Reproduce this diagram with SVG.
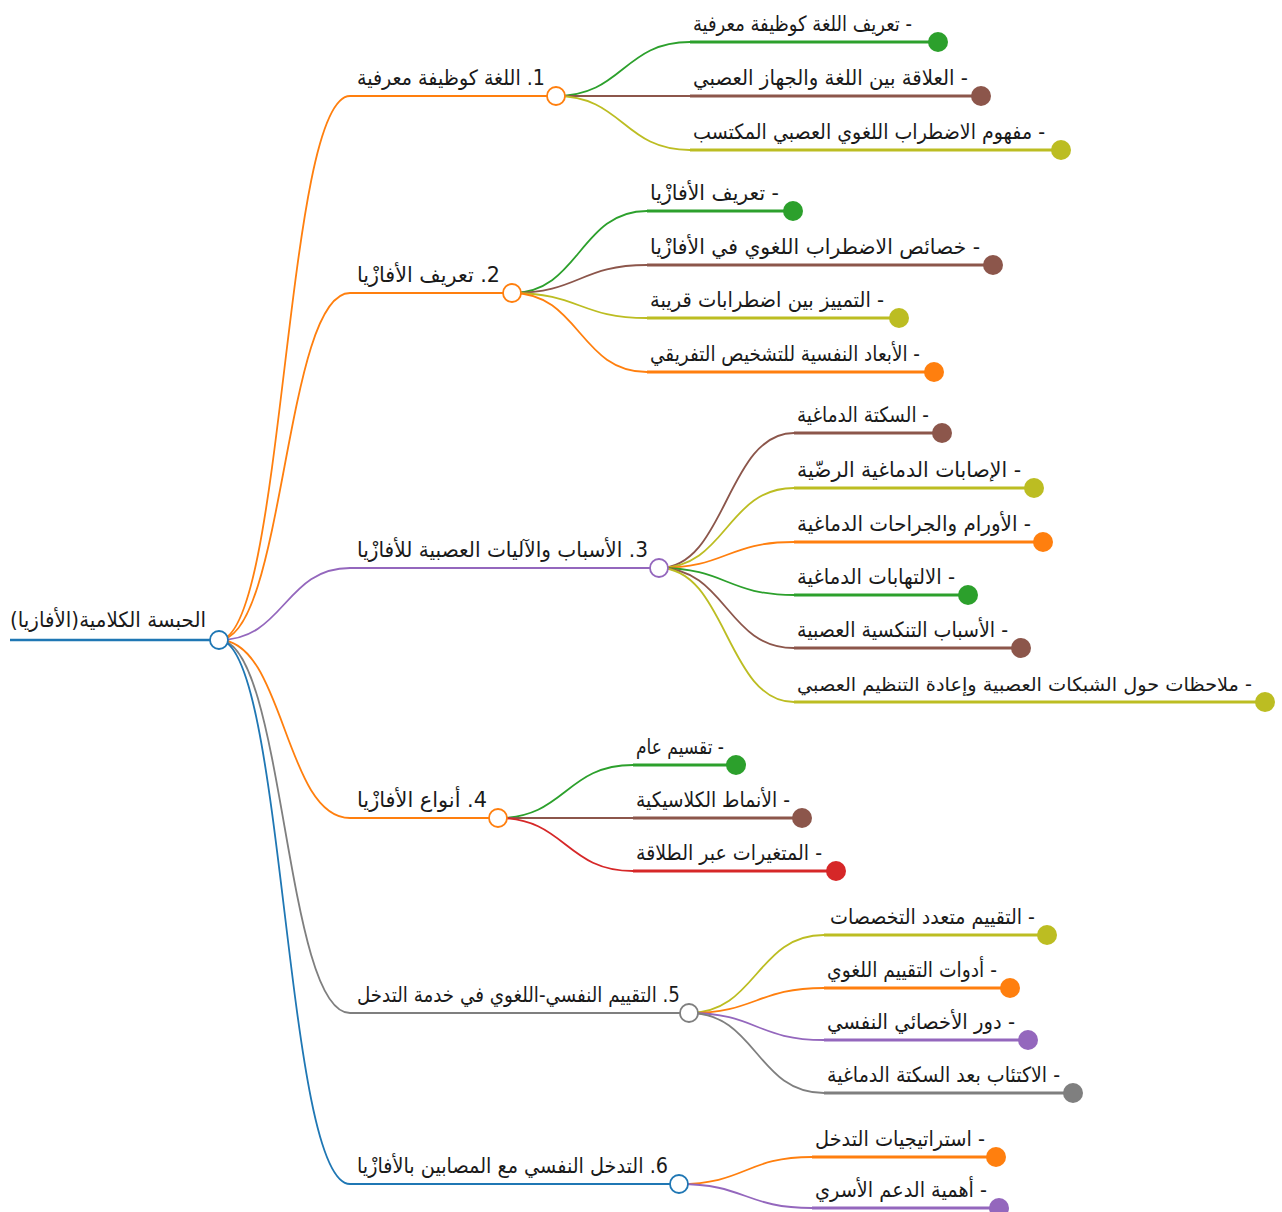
<svg xmlns="http://www.w3.org/2000/svg" width="1282" height="1212" viewBox="0 0 1282 1212">
<style>
.t{font-family:"DejaVu Sans",sans-serif;font-size:21px;fill:#1a1a1a;direction:rtl;unicode-bidi:embed;}
.c{fill:none;stroke-width:1.8;}
.u{fill:none;stroke-width:2;}
.l{fill:none;stroke-width:3;}
.o{stroke:#ff7f0e;} .g{stroke:#2ca02c;} .b{stroke:#8c564b;} .y{stroke:#bcbd22;} .p{stroke:#9467bd;} .k{stroke:#7f7f7f;} .bl{stroke:#1f77b4;} .r{stroke:#d62728;}
.fo{fill:#ff7f0e;} .fg{fill:#2ca02c;} .fb{fill:#8c564b;} .fy{fill:#bcbd22;} .fp{fill:#9467bd;} .fk{fill:#7f7f7f;} .fr{fill:#d62728;}
.hc{fill:#fff;stroke-width:1.8;}
</style>
<rect width="1282" height="1212" fill="#fff"/>
<g id="connectors">
  <path class="c o" d="M219,640 C284.5,640 284.5,96 350,96"/>
  <path class="c o" d="M219,640 C284.5,640 284.5,293 350,293"/>
  <path class="c p" d="M219,640 C284.5,640 284.5,568 350,568"/>
  <path class="c o" d="M219,640 C284.5,640 284.5,818 350,818"/>
  <path class="c k" d="M219,640 C284.5,640 284.5,1013 350,1013"/>
  <path class="c bl" d="M219,640 C284.5,640 284.5,1184 350,1184"/>
  <path class="c g" d="M556,96 C623,96 623,42 690,42"/>
  <path class="c b" d="M556,96 C623,96 623,96 690,96"/>
  <path class="c y" d="M556,96 C623,96 623,150 690,150"/>
  <path class="c g" d="M512,293 C579.5,293 579.5,211 647,211"/>
  <path class="c b" d="M512,293 C579.5,293 579.5,265 647,265"/>
  <path class="c y" d="M512,293 C579.5,293 579.5,318 647,318"/>
  <path class="c o" d="M512,293 C579.5,293 579.5,372 647,372"/>
  <path class="c b" d="M659,568 C726.5,568 726.5,433 794,433"/>
  <path class="c y" d="M659,568 C726.5,568 726.5,488 794,488"/>
  <path class="c o" d="M659,568 C726.5,568 726.5,542 794,542"/>
  <path class="c g" d="M659,568 C726.5,568 726.5,595 794,595"/>
  <path class="c b" d="M659,568 C726.5,568 726.5,648 794,648"/>
  <path class="c y" d="M659,568 C726.5,568 726.5,702 794,702"/>
  <path class="c g" d="M498,818 C565.5,818 565.5,765 633,765"/>
  <path class="c b" d="M498,818 C565.5,818 565.5,818 633,818"/>
  <path class="c r" d="M498,818 C565.5,818 565.5,871 633,871"/>
  <path class="c y" d="M689,1013 C756.5,1013 756.5,935 824,935"/>
  <path class="c o" d="M689,1013 C756.5,1013 756.5,988 824,988"/>
  <path class="c p" d="M689,1013 C756.5,1013 756.5,1040 824,1040"/>
  <path class="c k" d="M689,1013 C756.5,1013 756.5,1093 824,1093"/>
  <path class="c o" d="M679,1184 C745.5,1184 745.5,1157 812,1157"/>
  <path class="c p" d="M679,1184 C745.5,1184 745.5,1208 812,1208"/>
</g>

<g id="root">
  <path class="u bl" d="M10,640 H219" style="stroke-width:2.5"/>
  <text class="t" x="10" y="627" text-anchor="end" textLength="196" lengthAdjust="spacingAndGlyphs">الحبسة الكلامية(الأفازيا)</text>
  <circle class="hc bl" cx="219" cy="640" r="9"/>
</g>

<g id="b1">
  <path class="u o" d="M350,96 H556"/>
  <text class="t" x="357" y="85" text-anchor="end" textLength="188" lengthAdjust="spacingAndGlyphs">1. اللغة كوظيفة معرفية</text>
  <circle class="hc o" cx="556" cy="96" r="9"/>
</g>
<g id="b1-1"><path class="l g" d="M690,42 H938"/><text class="t" x="693" y="31" text-anchor="end" textLength="219" lengthAdjust="spacingAndGlyphs">- تعريف اللغة كوظيفة معرفية</text><circle class="fg" cx="938" cy="42" r="10"/></g>
<g id="b1-2"><path class="l b" d="M690,96 H981"/><text class="t" x="693" y="85" text-anchor="end" textLength="275" lengthAdjust="spacingAndGlyphs">- العلاقة بين اللغة والجهاز العصبي</text><circle class="fb" cx="981" cy="96" r="10"/></g>
<g id="b1-3"><path class="l y" d="M690,150 H1061"/><text class="t" x="693" y="139" text-anchor="end" textLength="352" lengthAdjust="spacingAndGlyphs">- مفهوم الاضطراب اللغوي العصبي المكتسب</text><circle class="fy" cx="1061" cy="150" r="10"/></g>

<g id="b2">
  <path class="u o" d="M350,293 H512"/>
  <text class="t" x="357" y="282" text-anchor="end" textLength="143" lengthAdjust="spacingAndGlyphs">2. تعريف الأفازْيا</text>
  <circle class="hc o" cx="512" cy="293" r="9"/>
</g>
<g id="b2-1"><path class="l g" d="M647,211 H793"/><text class="t" x="650" y="200" text-anchor="end" textLength="129" lengthAdjust="spacingAndGlyphs">- تعريف الأفازْيا</text><circle class="fg" cx="793" cy="211" r="10"/></g>
<g id="b2-2"><path class="l b" d="M647,265 H993"/><text class="t" x="650" y="254" text-anchor="end" textLength="330" lengthAdjust="spacingAndGlyphs">- خصائص الاضطراب اللغوي في الأفازْيا</text><circle class="fb" cx="993" cy="265" r="10"/></g>
<g id="b2-3"><path class="l y" d="M647,318 H899"/><text class="t" x="650" y="307" text-anchor="end" textLength="234" lengthAdjust="spacingAndGlyphs">- التمييز بين اضطرابات قريبة</text><circle class="fy" cx="899" cy="318" r="10"/></g>
<g id="b2-4"><path class="l o" d="M647,372 H934"/><text class="t" x="650" y="361" text-anchor="end" textLength="270" lengthAdjust="spacingAndGlyphs">- الأبعاد النفسية للتشخيص التفريقي</text><circle class="fo" cx="934" cy="372" r="10"/></g>

<g id="b3">
  <path class="u p" d="M350,568 H659"/>
  <text class="t" x="357" y="557" text-anchor="end" textLength="291" lengthAdjust="spacingAndGlyphs">3. الأسباب والآليات العصبية للأفازْيا</text>
  <circle class="hc p" cx="659" cy="568" r="9"/>
</g>
<g id="b3-1"><path class="l b" d="M794,433 H942"/><text class="t" x="797" y="422" text-anchor="end" textLength="132" lengthAdjust="spacingAndGlyphs">- السكتة الدماغية</text><circle class="fb" cx="942" cy="433" r="10"/></g>
<g id="b3-2"><path class="l y" d="M794,488 H1034"/><text class="t" x="797" y="477" text-anchor="end" textLength="224" lengthAdjust="spacingAndGlyphs">- الإصابات الدماغية الرضّية</text><circle class="fy" cx="1034" cy="488" r="10"/></g>
<g id="b3-3"><path class="l o" d="M794,542 H1043"/><text class="t" x="797" y="531" text-anchor="end" textLength="234" lengthAdjust="spacingAndGlyphs">- الأورام والجراحات الدماغية</text><circle class="fo" cx="1043" cy="542" r="10"/></g>
<g id="b3-4"><path class="l g" d="M794,595 H968"/><text class="t" x="797" y="584" text-anchor="end" textLength="158" lengthAdjust="spacingAndGlyphs">- الالتهابات الدماغية</text><circle class="fg" cx="968" cy="595" r="10"/></g>
<g id="b3-5"><path class="l b" d="M794,648 H1021"/><text class="t" x="797" y="637" text-anchor="end" textLength="211" lengthAdjust="spacingAndGlyphs">- الأسباب التنكسية العصبية</text><circle class="fb" cx="1021" cy="648" r="10"/></g>
<g id="b3-6"><path class="l y" d="M794,702 H1265"/><text class="t" x="797" y="691" text-anchor="end" textLength="455" lengthAdjust="spacingAndGlyphs" style="font-size:19px">- ملاحظات حول الشبكات العصبية وإعادة التنظيم العصبي</text><circle class="fy" cx="1265" cy="702" r="10"/></g>

<g id="b4">
  <path class="u o" d="M350,818 H498"/>
  <text class="t" x="357" y="807" text-anchor="end" textLength="130" lengthAdjust="spacingAndGlyphs">4. أنواع الأفازْيا</text>
  <circle class="hc o" cx="498" cy="818" r="9"/>
</g>
<g id="b4-1"><path class="l g" d="M633,765 H736"/><text class="t" x="636" y="754" text-anchor="end" textLength="88" lengthAdjust="spacingAndGlyphs">- تقسيم عام</text><circle class="fg" cx="736" cy="765" r="10"/></g>
<g id="b4-2"><path class="l b" d="M633,818 H802"/><text class="t" x="636" y="807" text-anchor="end" textLength="154" lengthAdjust="spacingAndGlyphs">- الأنماط الكلاسيكية</text><circle class="fb" cx="802" cy="818" r="10"/></g>
<g id="b4-3"><path class="l r" d="M633,871 H836"/><text class="t" x="636" y="860" text-anchor="end" textLength="186" lengthAdjust="spacingAndGlyphs">- المتغيرات عبر الطلاقة</text><circle class="fr" cx="836" cy="871" r="10"/></g>

<g id="b5">
  <path class="u k" d="M350,1013 H689"/>
  <text class="t" x="357" y="1002" text-anchor="end" textLength="323" lengthAdjust="spacingAndGlyphs">5. التقييم النفسي-اللغوي في خدمة التدخل</text>
  <circle class="hc k" cx="689" cy="1013" r="9"/>
</g>
<g id="b5-1"><path class="l y" d="M824,935 H1047"/><text class="t" x="830" y="924" text-anchor="end" textLength="205" lengthAdjust="spacingAndGlyphs">- التقييم متعدد التخصصات</text><circle class="fy" cx="1047" cy="935" r="10"/></g>
<g id="b5-2"><path class="l o" d="M824,988 H1010"/><text class="t" x="827" y="977" text-anchor="end" textLength="170" lengthAdjust="spacingAndGlyphs">- أدوات التقييم اللغوي</text><circle class="fo" cx="1010" cy="988" r="10"/></g>
<g id="b5-3"><path class="l p" d="M824,1040 H1028"/><text class="t" x="827" y="1029" text-anchor="end" textLength="188" lengthAdjust="spacingAndGlyphs">- دور الأخصائي النفسي</text><circle class="fp" cx="1028" cy="1040" r="10"/></g>
<g id="b5-4"><path class="l k" d="M824,1093 H1073"/><text class="t" x="827" y="1082" text-anchor="end" textLength="233" lengthAdjust="spacingAndGlyphs">- الاكتئاب بعد السكتة الدماغية</text><circle class="fk" cx="1073" cy="1093" r="10"/></g>

<g id="b6">
  <path class="u bl" d="M350,1184 H679"/>
  <text class="t" x="357" y="1173" text-anchor="end" textLength="311" lengthAdjust="spacingAndGlyphs">6. التدخل النفسي مع المصابين بالأفازْيا</text>
  <circle class="hc bl" cx="679" cy="1184" r="9"/>
</g>
<g id="b6-1"><path class="l o" d="M812,1157 H996"/><text class="t" x="815" y="1146" text-anchor="end" textLength="170" lengthAdjust="spacingAndGlyphs">- استراتيجيات التدخل</text><circle class="fo" cx="996" cy="1157" r="10"/></g>
<g id="b6-2"><path class="l p" d="M812,1208 H999"/><text class="t" x="815" y="1197" text-anchor="end" textLength="172" lengthAdjust="spacingAndGlyphs">- أهمية الدعم الأسري</text><circle class="fp" cx="999" cy="1208" r="10"/></g>
</svg>
